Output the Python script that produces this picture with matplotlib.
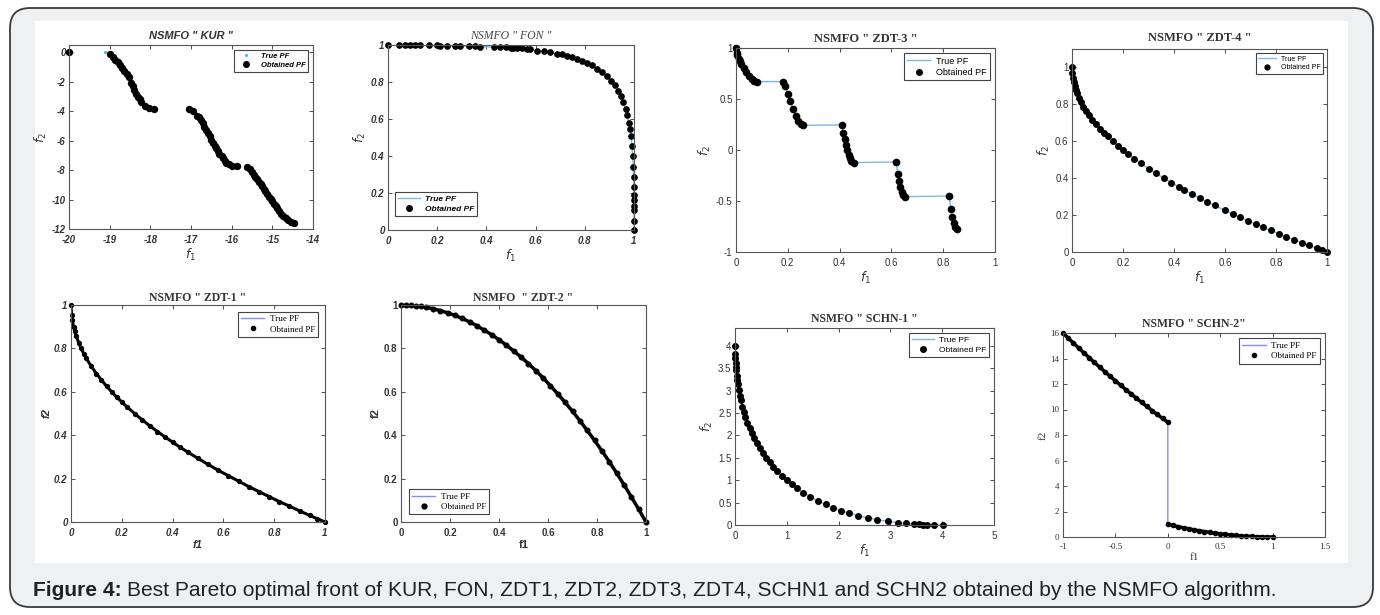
import matplotlib.pyplot as plt
from matplotlib.patches import FancyBboxPatch, Rectangle
from matplotlib.transforms import IdentityTransform
from matplotlib.lines import Line2D

plt.rcParams['axes.unicode_minus'] = False

W, H = 1380, 615
SANS = 'Liberation Sans'
SERIF = 'Liberation Serif'
BLUE = '#7cb9e2'
LAV = '#8c8cf5'

# ---- KUR ----
kur_x = [-20, -19.0, -18.93, -18.87, -18.8, -18.75, -18.7, -18.64, -18.58, -18.52, -18.47, -18.43,
         -18.39, -18.35, -18.31, -18.26, -18.22, -18.12, -18.04, -17.92,
         -17.04, -16.96, -16.86, -16.8, -16.75, -16.71, -16.67, -16.63, -16.58, -16.54, -16.5, -16.46,
         -16.42, -16.38, -16.34, -16.3, -16.25, -16.21, -16.17, -16.13, -16.07, -16.0, -15.86,
         -15.63, -15.55, -15.5, -15.46, -15.42, -15.37, -15.33, -15.29, -15.25, -15.21, -15.17, -15.12,
         -15.08, -15.04, -15.0, -14.96, -14.92, -14.88, -14.83, -14.78, -14.73, -14.67, -14.61, -14.53, -14.46]
kur_y = [0, -0.14, -0.3, -0.5, -0.68, -0.86, -1.05, -1.25, -1.45, -1.7, -2.1, -2.3,
         -2.55, -2.8, -3.0, -3.2, -3.35, -3.65, -3.8, -3.85,
         -3.85, -4.0, -4.3, -4.4, -4.6, -4.8, -5.05, -5.3, -5.5, -5.7, -5.95, -6.15,
         -6.35, -6.5, -6.7, -6.9, -7.05, -7.2, -7.35, -7.5, -7.6, -7.7, -7.7,
         -7.82, -7.95, -8.1, -8.3, -8.45, -8.6, -8.8, -8.95, -9.1, -9.3, -9.45, -9.6,
         -9.8, -9.95, -10.1, -10.3, -10.45, -10.6, -10.75, -10.95, -11.1, -11.25, -11.4, -11.5, -11.6]
kur_true_x = [-19.12, -19.05, -18.6, -18.0, -17.0, -16.4, -15.95, -15.6, -15.2, -14.9, -14.5]
kur_true_y = [0, -0.05, -1.4, -3.85, -3.8, -6.3, -7.75, -7.8, -9.25, -10.3, -11.55]

# ---- FON ----
fon_x = [0, 0.043, 0.07, 0.09, 0.11, 0.13, 0.165, 0.2, 0.213, 0.24, 0.274, 0.294, 0.33, 0.355, 0.376,
         0.43, 0.457, 0.478, 0.498, 0.51, 0.525, 0.545, 0.566, 0.579, 0.607, 0.634, 0.66, 0.688, 0.708,
         0.729, 0.749, 0.77, 0.79, 0.81, 0.83, 0.85, 0.871, 0.891, 0.908, 0.921, 0.935, 0.946, 0.957,
         0.966, 0.973, 0.98, 0.984, 0.989, 0.992, 0.995, 0.997, 0.999, 1.0, 1.0, 1.0, 1.0, 1.0, 1.0, 1.0]
fon_y = [1.0, 1.0, 1.0, 1.0, 1.0, 1.0, 1.0, 1.0, 0.996, 0.995, 0.996, 0.995, 0.995, 0.995, 0.99,
         0.99, 0.989, 0.987, 0.985, 0.985, 0.982, 0.982, 0.978, 0.977, 0.97, 0.967, 0.96, 0.954, 0.949,
         0.94, 0.934, 0.927, 0.916, 0.905, 0.89, 0.872, 0.854, 0.832, 0.808, 0.785, 0.754, 0.723, 0.69,
         0.653, 0.62, 0.58, 0.544, 0.507, 0.453, 0.398, 0.343, 0.288, 0.234, 0.19, 0.16, 0.13, 0.106, 0.05, 0.0]
fon_true_x = [0, 0.2, 0.4, 0.5, 0.6, 0.7, 0.77, 0.83, 0.87, 0.91, 0.935, 0.957, 0.973, 0.984, 0.992, 0.997, 1.0, 1.0]
fon_true_y = [1, 0.997, 0.99, 0.985, 0.972, 0.951, 0.927, 0.89, 0.856, 0.805, 0.754, 0.69, 0.62, 0.544, 0.453, 0.343, 0.2, 0]

# ---- ZDT-3 ----
zdt3_x = [0, 0.002, 0.005, 0.01, 0.015, 0.02, 0.03, 0.04, 0.05, 0.06, 0.07, 0.083,
          0.182, 0.19, 0.2, 0.21, 0.22, 0.23, 0.24, 0.25, 0.258,
          0.409, 0.415, 0.42, 0.425, 0.43, 0.435, 0.44, 0.445, 0.454,
          0.618, 0.625, 0.63, 0.635, 0.64, 0.645, 0.653,
          0.823, 0.83, 0.835, 0.84, 0.845, 0.852]
zdt3_y = [1.0, 0.955, 0.928, 0.897, 0.871, 0.847, 0.803, 0.762, 0.726, 0.698, 0.679, 0.67,
          0.671, 0.623, 0.553, 0.477, 0.402, 0.334, 0.282, 0.25, 0.242,
          0.246, 0.167, 0.105, 0.048, -0.004, -0.047, -0.082, -0.107, -0.124,
          -0.117, -0.233, -0.304, -0.363, -0.409, -0.44, -0.458,
          -0.451, -0.582, -0.658, -0.715, -0.754, -0.773]

# ---- ZDT-4 ----
zdt4_x = [0, 0.001, 0.003, 0.006, 0.01, 0.015, 0.02, 0.027, 0.035, 0.045, 0.055, 0.065, 0.08, 0.095,
          0.11, 0.125, 0.14, 0.16, 0.18, 0.2, 0.22, 0.245, 0.27, 0.3, 0.33, 0.36, 0.39, 0.42, 0.44,
          0.47, 0.5, 0.53, 0.56, 0.6, 0.63, 0.66, 0.69, 0.72, 0.75, 0.78, 0.81, 0.84, 0.87, 0.9,
          0.93, 0.96, 0.98, 1.0]
zdt4_y = [1.0, 0.968, 0.945, 0.923, 0.9, 0.878, 0.859, 0.836, 0.813, 0.788, 0.765, 0.745, 0.717, 0.692,
          0.668, 0.646, 0.626, 0.6, 0.576, 0.553, 0.531, 0.505, 0.48, 0.452, 0.426, 0.4, 0.376, 0.352, 0.337,
          0.314, 0.293, 0.272, 0.252, 0.225, 0.206, 0.188, 0.169, 0.151, 0.134, 0.117, 0.1, 0.083, 0.067, 0.051,
          0.036, 0.02, 0.01, 0.0]

# ---- ZDT-1 ----
zdt1_x = [0, 0.002, 0.005, 0.01, 0.015, 0.02, 0.03, 0.04, 0.05, 0.06, 0.08, 0.10, 0.12, 0.14, 0.16,
          0.18, 0.20, 0.22, 0.25, 0.28, 0.31, 0.34, 0.37, 0.40, 0.43, 0.46, 0.50, 0.54, 0.58, 0.62,
          0.66, 0.70, 0.74, 0.78, 0.82, 0.86, 0.90, 0.94, 0.97, 1.0]
zdt1_y = [1.0, 0.955, 0.929, 0.9, 0.878, 0.859, 0.827, 0.8, 0.776, 0.755, 0.717, 0.684, 0.654, 0.626, 0.6,
          0.576, 0.553, 0.531, 0.5, 0.471, 0.443, 0.417, 0.392, 0.368, 0.344, 0.322, 0.293, 0.265, 0.238, 0.213,
          0.188, 0.163, 0.14, 0.117, 0.094, 0.073, 0.051, 0.03, 0.015, 0.0]

# ---- ZDT-2 ----
zdt2_x = [0, 0.02, 0.04, 0.06, 0.08, 0.10, 0.13, 0.16, 0.19, 0.22, 0.25, 0.28, 0.31, 0.34, 0.37, 0.40,
          0.43, 0.46, 0.49, 0.52, 0.55, 0.58, 0.61, 0.64, 0.67, 0.70, 0.73, 0.76, 0.79, 0.82, 0.85, 0.88,
          0.91, 0.94, 0.97, 1.0]
zdt2_y = [1.0, 0.9996, 0.998, 0.996, 0.994, 0.99, 0.983, 0.974, 0.964, 0.952, 0.938, 0.922, 0.904, 0.884,
          0.863, 0.84, 0.815, 0.788, 0.76, 0.73, 0.698, 0.664, 0.628, 0.59, 0.551, 0.51, 0.467, 0.422, 0.376,
          0.328, 0.278, 0.226, 0.172, 0.116, 0.059, 0.0]

# ---- SCHN-1 ----
schn1_x = [0, 0.002, 0.005, 0.01, 0.015, 0.02, 0.03, 0.04, 0.05, 0.07, 0.09, 0.11, 0.14, 0.17, 0.2, 0.24,
           0.28, 0.32, 0.37, 0.42, 0.48, 0.54, 0.6, 0.67, 0.74, 0.82, 0.9, 1.0, 1.1, 1.2, 1.32, 1.45, 1.6,
           1.75, 1.9, 2.05, 2.2, 2.38, 2.56, 2.75, 2.95, 3.15, 3.3, 3.45, 3.55, 3.62, 3.7, 3.85, 4.02]
schn1_y = [4.0, 3.822, 3.722, 3.61, 3.525, 3.454, 3.337, 3.24, 3.156, 3.012, 2.89, 2.783, 2.643, 2.521,
           2.411, 2.28, 2.163, 2.057, 1.937, 1.828, 1.709, 1.601, 1.502, 1.396, 1.299, 1.198, 1.105, 1.0,
           0.905, 0.818, 0.724, 0.633, 0.54, 0.458, 0.386, 0.323, 0.267, 0.209, 0.16, 0.117, 0.08, 0.051,
           0.034, 0.02, 0.013, 0.0095, 0.0059, 0.0014, 0.0]

# ---- SCHN-2 ----
schn2_ax = [-1.0, -0.95, -0.9, -0.85, -0.8, -0.75, -0.7, -0.65, -0.6, -0.55, -0.5, -0.45, -0.4, -0.35,
            -0.3, -0.25, -0.2, -0.15, -0.1, -0.05, 0.0]
schn2_ay = [16.0, 15.6, 15.21, 14.82, 14.44, 14.06, 13.69, 13.32, 12.96, 12.6, 12.25, 11.9, 11.56, 11.22,
            10.89, 10.56, 10.24, 9.92, 9.61, 9.3, 9.0]
schn2_bx = [0.0, 0.05, 0.1, 0.15, 0.2, 0.25, 0.3, 0.35, 0.4, 0.45, 0.5, 0.55, 0.6, 0.65, 0.7, 0.75, 0.8,
            0.85, 0.9, 0.95, 1.0]
schn2_by = [1.0, 0.9025, 0.81, 0.7225, 0.64, 0.5625, 0.49, 0.4225, 0.36, 0.3025, 0.25, 0.2025, 0.16,
            0.1225, 0.09, 0.0625, 0.04, 0.0225, 0.01, 0.0025, 0.0]
schn2_true_x = [-1, -0.75, -0.5, -0.25, 0, 0, 0.25, 0.5, 0.75, 1]
schn2_true_y = [16, 14.06, 12.25, 10.56, 9, 1, 0.5625, 0.25, 0.0625, 0]


fig = plt.figure(figsize=(W / 100, H / 100), dpi=100)
fig.patch.set_facecolor('white')

# page frame, white figure panel (kept under the axes)
fig.patches.append(FancyBboxPatch((10, 8), 1363, 599, boxstyle='round,pad=0,rounding_size=20',
                                  transform=IdentityTransform(), facecolor='#eef0f2',
                                  edgecolor='#3a3a3a', linewidth=1.3, zorder=-3))
fig.patches.append(Rectangle((35, 52), 1313, 542, transform=IdentityTransform(),
                             facecolor='white', edgecolor='none', zorder=-2))


def px_axes(l, t, r, b):
    return fig.add_axes([l / W, 1 - b / H, (r - l) / W, (b - t) / H])


def style(ax, font, tsize=7, weight='normal', fstyle='normal'):
    ax.tick_params(direction='in', top=True, right=True, length=3, width=0.6, labelsize=tsize,
                   colors='#333333')
    ax.tick_params(axis='x', pad=4)
    ax.tick_params(axis='y', pad=2.5)
    for lab in ax.get_xticklabels() + ax.get_yticklabels():
        lab.set_family(font)
        lab.set_weight(weight)
        lab.set_style(fstyle)
    for s in ax.spines.values():
        s.set_color('#555555')
        s.set_linewidth(0.8)


def legend(ax, loc, font, size=6.5, fstyle='normal', weight='normal', anchor=None, true_marker=False,
           color=BLUE, ms=4):
    if true_marker:
        h1 = Line2D([], [], ls='none', marker='.', ms=2.5, color=color)
    else:
        h1 = Line2D([], [], color=color, lw=1)
    h2 = Line2D([], [], ls='none', marker='o', ms=ms, color='black')
    kw = dict(loc=loc, fancybox=False, edgecolor='#444444', framealpha=1, handlelength=2.6,
              borderpad=0.35, labelspacing=0.25, handletextpad=0.6, borderaxespad=0.6,
              prop=dict(family=font, size=size, style=fstyle, weight=weight))
    if anchor is not None:
        kw['bbox_to_anchor'] = anchor
    lg = ax.legend([h1, h2], ['True PF', 'Obtained PF'], **kw)
    lg.get_frame().set_linewidth(0.8)
    return lg


# KUR
ax = px_axes(69, 45, 313, 229)
ax.plot(kur_true_x, kur_true_y, ls='none', marker='.', ms=2.5, color='#4fb3e8')
ax.plot(kur_x, kur_y, ls='none', marker='o', ms=4.3, color='black', clip_on=False)
ax.set_xlim(-20, -14)
ax.set_ylim(-12, 0.5)
ax.set_xticks([-20, -19, -18, -17, -16, -15, -14])
ax.set_yticks([-12, -10, -8, -6, -4, -2, 0])
style(ax, SANS, 7, 'bold', 'italic')
ax.set_title('NSMFO " KUR "', family=SANS, size=8, weight='bold', style='italic', pad=4, color='#333')
ax.set_xlabel('$f_1$', size=9, color='#333', labelpad=2)
ax.set_ylabel('$f_2$', size=9, color='#333', labelpad=2)
legend(ax, 'upper right', SANS, 5.5, 'italic', 'bold', true_marker=True, color='#4fb3e8')

# FON
ax = px_axes(388, 45, 634, 230)
ax.plot(fon_true_x, fon_true_y, color=BLUE, lw=1)
ax.plot(fon_x, fon_y, ls='none', marker='o', ms=3.8, color='black', clip_on=False)
ax.set_xlim(0, 1)
ax.set_ylim(0, 1)
ax.set_xticks([0, 0.2, 0.4, 0.6, 0.8, 1])
ax.set_xticklabels(['0', '0.2', '0.4', '0.6', '0.8', '1'])
ax.set_yticks([0, 0.2, 0.4, 0.6, 0.8, 1])
ax.set_yticklabels(['0', '0.2', '0.4', '0.6', '0.8', '1'])
style(ax, SANS, 7, 'bold', 'italic')
ax.set_title('NSMFO " FON "', family=SERIF, size=8.5, style='italic', pad=4, color='#444')
ax.set_xlabel('$f_1$', size=9, color='#333', labelpad=2)
ax.set_ylabel('$f_2$', size=9, color='#333', labelpad=2)
legend(ax, 'lower left', SANS, 6, 'italic', 'bold', anchor=(0.01, 0.05))

# ZDT-3
ax = px_axes(736, 48, 995, 252)
ax.plot(zdt3_x, zdt3_y, color=BLUE, lw=1)
ax.plot(zdt3_x, zdt3_y, ls='none', marker='o', ms=4.5, color='black', clip_on=False)
ax.set_xlim(0, 1)
ax.set_ylim(-1, 1)
ax.set_xticks([0, 0.2, 0.4, 0.6, 0.8, 1])
ax.set_xticklabels(['0', '0.2', '0.4', '0.6', '0.8', '1'])
ax.set_yticks([-1, -0.5, 0, 0.5, 1])
ax.set_yticklabels(['-1', '-0.5', '0', '0.5', '1'])
style(ax, SANS, 7)
ax.set_title('NSMFO " ZDT-3 "', family=SERIF, size=9, weight='bold', pad=4, color='#333')
ax.set_xlabel('$f_1$', size=9, color='#333', labelpad=2)
ax.set_ylabel('$f_2$', size=9, color='#333', labelpad=2)
legend(ax, 'upper right', SANS, 6.5)

# ZDT-4
ax = px_axes(1072, 49, 1327, 252)
ax.plot(zdt4_x, zdt4_y, color=BLUE, lw=1)
ax.plot(zdt4_x, zdt4_y, ls='none', marker='o', ms=4, color='black', clip_on=False)
ax.set_xlim(0, 1)
ax.set_ylim(0, 1.1)
ax.set_xticks([0, 0.2, 0.4, 0.6, 0.8, 1])
ax.set_xticklabels(['0', '0.2', '0.4', '0.6', '0.8', '1'])
ax.set_yticks([0, 0.2, 0.4, 0.6, 0.8, 1])
ax.set_yticklabels(['0', '0.2', '0.4', '0.6', '0.8', '1'])
style(ax, SANS, 7)
ax.set_title('NSMFO " ZDT-4 "', family=SERIF, size=9, weight='bold', pad=6, color='#333')
ax.set_xlabel('$f_1$', size=9, color='#333', labelpad=2)
ax.set_ylabel('$f_2$', size=9, color='#333', labelpad=2)
legend(ax, 'upper right', SANS, 5, ms=3.5)

# ZDT-1
ax = px_axes(71, 305, 325, 522)
ax.plot(zdt1_x, zdt1_y, color='black', lw=2.2)
ax.plot(zdt1_x, zdt1_y, ls='none', marker='o', ms=2.8, color='black', clip_on=False)
ax.set_xlim(0, 1)
ax.set_ylim(0, 1)
ax.set_xticks([0, 0.2, 0.4, 0.6, 0.8, 1])
ax.set_xticklabels(['0', '0.2', '0.4', '0.6', '0.8', '1'])
ax.set_yticks([0, 0.2, 0.4, 0.6, 0.8, 1])
ax.set_yticklabels(['0', '0.2', '0.4', '0.6', '0.8', '1'])
style(ax, SANS, 7, 'bold', 'italic')
ax.set_title('NSMFO " ZDT-1 "', family=SERIF, size=8.5, weight='bold', pad=3, color='#333')
ax.set_xlabel('f1', family=SANS, size=8, weight='bold', style='italic', color='#333', labelpad=2)
ax.set_ylabel('f2', family=SANS, size=8, weight='bold', style='italic', color='#333', labelpad=2)
legend(ax, 'upper right', SERIF, 6.5, color=LAV, ms=3, anchor=(0.995, 0.995))

# ZDT-2
ax = px_axes(401, 305, 646, 522)
ax.plot(zdt2_x, zdt2_y, color='black', lw=2.5)
ax.plot(zdt2_x, zdt2_y, ls='none', marker='o', ms=3.3, color='black', clip_on=False)
ax.set_xlim(0, 1)
ax.set_ylim(0, 1)
ax.set_xticks([0, 0.2, 0.4, 0.6, 0.8, 1])
ax.set_xticklabels(['0', '0.2', '0.4', '0.6', '0.8', '1'])
ax.set_yticks([0, 0.2, 0.4, 0.6, 0.8, 1])
ax.set_yticklabels(['0', '0.2', '0.4', '0.6', '0.8', '1'])
style(ax, SANS, 7, 'bold')
ax.set_title('NSMFO  " ZDT-2 "', family=SERIF, size=8.5, weight='bold', pad=3, color='#333')
ax.set_xlabel('f1', family=SANS, size=8, weight='bold', color='#333', labelpad=2)
ax.set_ylabel('f2', family=SANS, size=8, weight='bold', color='#333', labelpad=2)
legend(ax, 'lower left', SERIF, 6.5, color=LAV, ms=3.5, anchor=(0.01, 0.01))

# SCHN-1
ax = px_axes(735, 328, 994, 525)
ax.plot(schn1_x, schn1_y, color=BLUE, lw=1)
ax.plot(schn1_x, schn1_y, ls='none', marker='o', ms=4, color='black', clip_on=False)
ax.set_xlim(0, 5)
ax.set_ylim(0, 4.4)
ax.set_xticks([0, 1, 2, 3, 4, 5])
ax.set_yticks([0, 0.5, 1, 1.5, 2, 2.5, 3, 3.5, 4])
ax.set_yticklabels(['0', '0.5', '1', '1.5', '2', '2.5', '3', '3.5', '4'])
style(ax, SANS, 7)
ax.set_title('NSMFO " SCHN-1 "', family=SERIF, size=8.5, weight='bold', pad=4, color='#333')
ax.set_xlabel('$f_1$', size=9, color='#333', labelpad=2)
ax.set_ylabel('$f_2$', size=9, color='#333', labelpad=2)
legend(ax, 'upper right', SANS, 6)

# SCHN-2
ax = px_axes(1063, 333, 1325, 537)
ax.plot(schn2_true_x, schn2_true_y, color=LAV, lw=1)
ax.plot(schn2_ax, schn2_ay, color='black', lw=2.5)
ax.plot(schn2_bx, schn2_by, color='black', lw=2.5)
ax.plot(schn2_ax + schn2_bx, schn2_ay + schn2_by, ls='none', marker='o', ms=3, color='black', clip_on=False)
ax.set_xlim(-1, 1.5)
ax.set_ylim(0, 16)
ax.set_xticks([-1, -0.5, 0, 0.5, 1, 1.5])
ax.set_xticklabels(['-1', '-0.5', '0', '0.5', '1', '1.5'])
ax.set_yticks([0, 2, 4, 6, 8, 10, 12, 14, 16])
style(ax, SERIF, 6.5)
ax.set_title('NSMFO " SCHN-2"', family=SERIF, size=8.5, weight='bold', pad=4, color='#333')
ax.set_xlabel('f1', family=SERIF, size=8, color='#333', labelpad=2)
ax.set_ylabel('f2', family=SERIF, size=8, color='#333', labelpad=2)
legend(ax, 'upper right', SERIF, 6.5, color=LAV, ms=3)

# caption
fig.canvas.draw()
t1 = fig.text(33 / W, 1 - 590 / H, 'Figure 4:', family=SANS, size=15.1, weight='bold',
              color='#222', va='center')
bb = t1.get_window_extent(fig.canvas.get_renderer())
fig.text((bb.x1 + 5) / W, 1 - 590 / H,
         'Best Pareto optimal front of KUR, FON, ZDT1, ZDT2, ZDT3, ZDT4, SCHN1 and SCHN2 obtained by the NSMFO algorithm.',
         family=SANS, size=15.1, color='#222', va='center')

fig.savefig('out.png', dpi=100)
